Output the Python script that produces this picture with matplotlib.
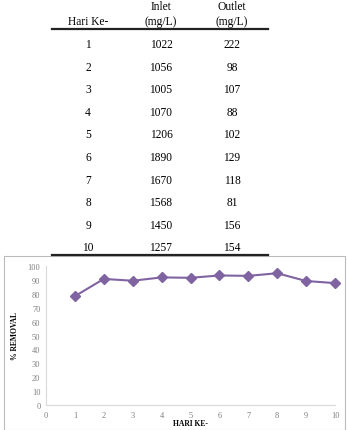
import matplotlib
matplotlib.use('Agg')
import matplotlib.pyplot as plt
from matplotlib.lines import Line2D
from matplotlib.patches import Rectangle

# data tabel
hari = [1, 2, 3, 4, 5, 6, 7, 8, 9, 10]
inlet = [1022, 1056, 1005, 1070, 1206, 1890, 1670, 1568, 1450, 1257]
outlet = [222, 98, 107, 88, 102, 129, 118, 81, 156, 154]
# % removal
removal = [78.3, 90.7, 89.4, 91.8, 91.5, 93.2, 92.9, 94.8, 89.2, 87.7]

W, H = 348, 431
fig = plt.figure(figsize=(W / 100, H / 100), dpi=100)

def fx(px):
    return px / W

def fy(py):
    return 1 - py / H

serif = 'Liberation Serif'
tsize = 8.3

# header tabel
fig.text(fx(88), fy(22), 'Hari Ke-', ha='center', va='center', family=serif, fontsize=tsize)
fig.text(fx(161), fy(7), 'Inlet', ha='center', va='center', family=serif, fontsize=tsize)
fig.text(fx(161), fy(22), '(mg/L)', ha='center', va='center', family=serif, fontsize=tsize)
fig.text(fx(232), fy(7), 'Outlet', ha='center', va='center', family=serif, fontsize=tsize)
fig.text(fx(232), fy(22), '(mg/L)', ha='center', va='center', family=serif, fontsize=tsize)
fig.add_artist(Line2D([fx(52), fx(268)], [fy(29.5), fy(29.5)], color='#222222', lw=1.6))

# isi tabel
for i, (h, a, b) in enumerate(zip(hari, inlet, outlet)):
    y = fy(45 + i * 22.6)
    fig.text(fx(88), y, str(h), ha='center', va='center', family=serif, fontsize=tsize)
    fig.text(fx(161), y, str(a), ha='center', va='center', family=serif, fontsize=tsize)
    fig.text(fx(232), y, str(b), ha='center', va='center', family=serif, fontsize=tsize)
fig.add_artist(Line2D([fx(52), fx(268)], [fy(256), fy(256)], color='#222222', lw=1.6))

# kotak grafik
fig.add_artist(Rectangle((fx(4), fy(431)), fx(341), 174 / H, fill=False,
                         edgecolor='#bbbbbb', lw=0.8))

# grafik % removal
ax = fig.add_axes([fx(46), fy(406), fx(335 - 46), (406 - 267) / H])
ax.plot(hari, removal, color='#8064A2', lw=1.5, marker='D', markersize=5,
        clip_on=False)
ax.set_xlim(0, 10)
ax.set_ylim(0, 100)
ax.set_xticks(range(0, 11))
ax.set_yticks(range(0, 101, 10))
for s in ['top', 'right']:
    ax.spines[s].set_visible(False)
for s in ['left', 'bottom']:
    ax.spines[s].set_color('#d9d9d9')
    ax.spines[s].set_linewidth(0.8)
ax.tick_params(length=0, labelsize=6, labelcolor='#7f7f7f', pad=4)
for lbl in ax.get_xticklabels() + ax.get_yticklabels():
    lbl.set_family(serif)
ax.set_xlabel('HARI KE-', family=serif, fontsize=5.5, fontweight='bold', va='center')
ax.xaxis.set_label_coords(0.5, -(424 - 406) / 139)
ax.set_ylabel('% REMOVAL', family=serif, fontsize=5.5, fontweight='bold', labelpad=6)

plt.savefig('out.png', dpi=100)
plt.close()
